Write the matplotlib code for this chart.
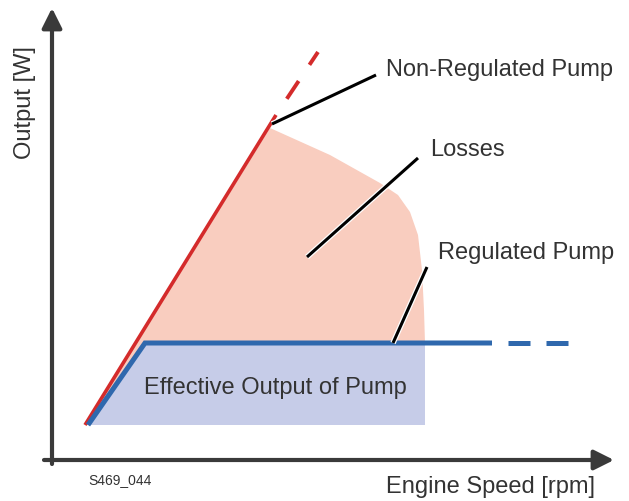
import matplotlib.pyplot as plt
import matplotlib.patheffects as pe
from matplotlib.patches import Polygon

# data in arbitrary units (speed, output)
red_solid_x = [33, 224]
red_solid_y = [35, 345]
red_dash_x = [224, 266]
red_dash_y = [345, 408]

blue_solid_x = [36, 93, 440]
blue_solid_y = [35, 117, 117]
blue_dash_x = [440, 516]
blue_dash_y = [117, 117]

effective_x = [36, 93, 373, 373]
effective_y = [35, 117, 117, 35]

losses_x = [33, 218, 278, 328, 346, 358, 366, 370, 372, 373, 93, 36]
losses_y = [35, 332, 305, 277, 265, 248, 225, 190, 150, 117, 117, 35]

# leader lines and labels
labels = ["Non-Regulated Pump", "Losses", "Regulated Pump"]
lead_start = [(220, 336), (255, 203), (341, 117)]
lead_end = [(324, 385), (366, 302), (375, 193)]
label_pos = [(334, 390), (378, 310), (386, 207)]

fig = plt.figure(figsize=(6.29, 5.01), dpi=100)
ax = fig.add_axes([0, 0, 1, 1])
ax.set_xlim(-52, 577)
ax.set_ylim(-41, 460)
ax.axis('off')

font = 'Liberation Sans'
txt = '#333333'

ax.add_patch(Polygon(list(zip(losses_x, losses_y)), closed=True,
                     facecolor='#f9cdbf', edgecolor='none', zorder=1))
ax.add_patch(Polygon(list(zip(effective_x, effective_y)), closed=True,
                     facecolor='#c6cce8', edgecolor='none', zorder=2))

ax.plot(red_solid_x, red_solid_y, color='#d42b2b', lw=2.6, zorder=4,
        solid_capstyle='butt')
# red dashes start with a gap
ax.plot(red_dash_x, red_dash_y, color='#d42b2b', lw=2.8, zorder=4,
        linestyle=(5.5, (5.5, 5.0)))
ax.plot(blue_solid_x, blue_solid_y, color='#2f68ad', lw=3.6, zorder=5,
        solid_capstyle='butt', solid_joinstyle='miter')
ax.plot(blue_dash_x, blue_dash_y, color='#2f68ad', lw=3.6, zorder=5,
        linestyle=(4.4, (4.4, 3.2)), dash_capstyle='butt')

# axes arrows
ax.annotate('', xy=(0, 452), xytext=(0, -4),
            arrowprops=dict(arrowstyle='-|>,head_length=1.2,head_width=0.6',
                            color='#3a3a3a', lw=3, shrinkA=0, shrinkB=0))
ax.annotate('', xy=(562, 0), xytext=(-8, 0),
            arrowprops=dict(arrowstyle='-|>,head_length=1.2,head_width=0.6',
                            color='#3a3a3a', lw=3, shrinkA=0, shrinkB=0))

for (x0, y0), (x1, y1), (tx, ty), lab in zip(lead_start, lead_end, label_pos, labels):
    ax.plot([x0, x1], [y0, y1], color='black', lw=2.2, zorder=6,
            solid_capstyle='butt',
            path_effects=[pe.Stroke(linewidth=4, foreground='white'), pe.Normal()])
    ax.text(tx, ty, lab, fontsize=17, color=txt, family=font,
            ha='left', va='center', zorder=7)

ax.text(223, 72, 'Effective Output of Pump', fontsize=17, color=txt,
        family=font, ha='center', va='center', zorder=7)
ax.text(-27, 357, 'Output [W]', fontsize=17, color=txt, family=font,
        rotation=90, ha='center', va='center')
ax.text(543, -27, 'Engine Speed [rpm]', fontsize=17, color=txt, family=font,
        ha='right', va='center')
ax.text(36, -20, 'S469_044', fontsize=10, color=txt, family=font,
        ha='left', va='center')

fig.savefig('out.png', dpi=100)
